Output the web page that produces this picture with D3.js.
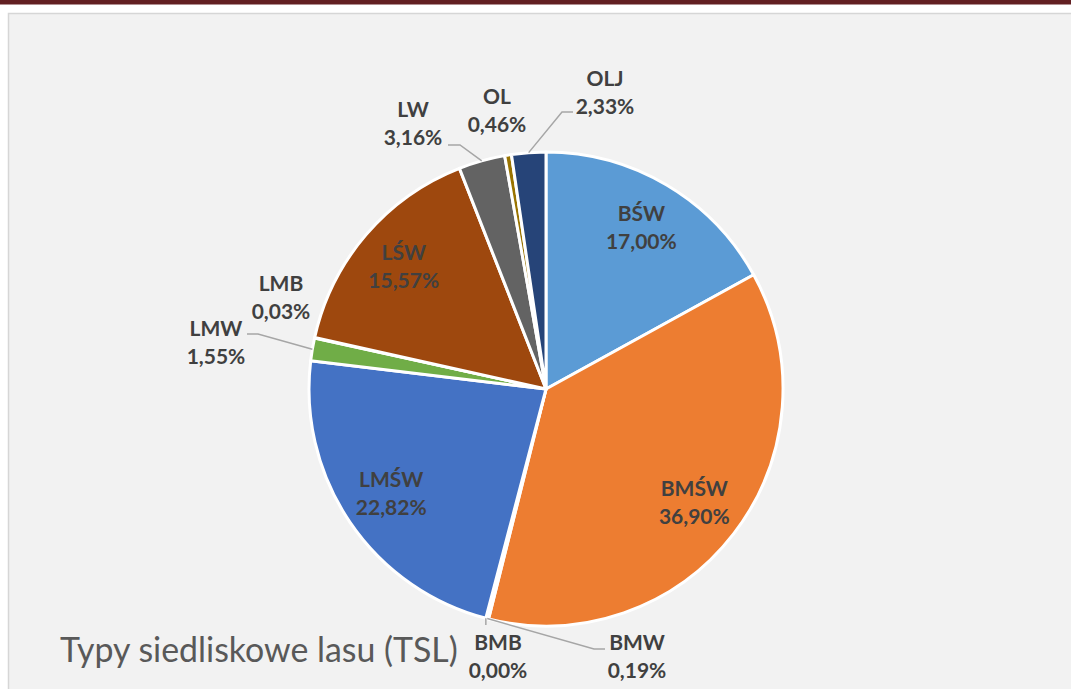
<!DOCTYPE html>
<html><head><meta charset="utf-8">
<script src="https://cdn.jsdelivr.net/npm/d3@7"></script>
<style>
html,body{margin:0;padding:0;background:#fff;overflow:hidden;}
svg{display:block;}
</style></head>
<body>
<svg id="chart" width="1071" height="689"></svg>
<script>
// ---- data ----
const categories = ["BŚW","BMŚW","BMW","BMB","LMŚW","LMW","LMB","LŚW","LW","OL","OLJ"];
const values     = [17.00, 36.90, 0.19, 0.00, 22.82, 1.55, 0.03, 15.57, 3.16, 0.46, 2.33];
const valueLabels = ["17,00%","36,90%","0,19%","0,00%","22,82%","1,55%","0,03%","15,57%","3,16%","0,46%","2,33%"];
const colors = ["#5B9BD5","#ED7D31","#A5A5A5","#FFC000","#4472C4","#70AD47","#255E91","#9E480E","#636363","#997300","#264478"];
const title = "Typy siedliskowe lasu (TSL)";

// ---- layout (styles/positions) ----
const W = 1071, H = 689;
const cx = 546, cy = 389, R = 237;
// outside labels: x center, first baseline, leader polyline (label side points)
const outside = {
  "BMW": {x:637, y:650, leader:[[605,649],[594,649]]},
  "BMB": {x:498, y:650, leader:null, tick:625},
  "LMW": {x:216, y:336, leader:[[247,334],[258,334]]},
  "LMB": {x:281, y:291, leader:null},
  "LW":  {x:413, y:117, leader:[[448,145],[460,145]]},
  "OL":  {x:497, y:104, leader:null},
  "OLJ": {x:605, y:86,  leader:[[573,112],[562,112]]}
};

const svg = d3.select("#chart");
// top dark red strip
svg.append("rect").attr("x",0).attr("y",0).attr("width",W).attr("height",4.5).attr("fill","#621f22");
// panel
svg.append("rect").attr("x",8.5).attr("y",13.5).attr("width",W+20).attr("height",H+20)
  .attr("fill","#f2f2f2").attr("stroke","#d6d6d6").attr("stroke-width",1.5);

const data = categories.map((c,i)=>({cat:c, value:values[i], label:valueLabels[i], color:colors[i]}));
const pie = d3.pie().value(d=>d.value).sort(null);
const arcs = pie(data);
const arc = d3.arc().innerRadius(0).outerRadius(R);

const g = svg.append("g").attr("transform",`translate(${cx},${cy})`);
g.selectAll("path.slice").data(arcs).join("path")
  .attr("class","slice")
  .attr("d",arc)
  .attr("fill",d=>d.data.color)
  .attr("stroke","#ffffff").attr("stroke-width",3).attr("stroke-linejoin","round");

const fontFam = "Lato, 'Open Sans', sans-serif";
const lblColor = "#404040";
const lineGap = 28;

function polar(a, r){ return [cx + r*Math.sin(a), cy - r*Math.cos(a)]; }

arcs.forEach(a=>{
  const d = a.data;
  const mid = (a.startAngle + a.endAngle)/2;
  let x, y;
  const o = outside[d.cat];
  if (o) {
    x = o.x; y = o.y;
    const edge = polar(mid, R);
    if (o.leader) {
      const pts = o.leader.concat([edge]);
      svg.append("polyline").attr("points", pts.map(p=>p.join(",")).join(" "))
        .attr("fill","none").attr("stroke","#a6a6a6").attr("stroke-width",1.5);
    }
    if (o.tick) {
      svg.append("line").attr("x1",edge[0]).attr("y1",edge[1]).attr("x2",edge[0]).attr("y2",o.tick)
        .attr("stroke","#a6a6a6").attr("stroke-width",1.5);
    }
  } else {
    const p = polar(mid, R*0.79);
    x = p[0]; y = p[1] - 7;   // block centered on point
  }
  const t = svg.append("text").attr("text-anchor","middle")
    .attr("font-family",fontFam).attr("font-weight","bold").attr("font-size",21)
    .attr("fill",lblColor);
  t.append("tspan").attr("x",x).attr("y",y).text(d.cat);
  t.append("tspan").attr("x",x).attr("y",y+lineGap).text(d.label);
});

// title
const tt = svg.append("text").attr("x",60).attr("y",662)
  .attr("font-family",fontFam).attr("font-size",30).attr("fill","#595959").text(title);
const len = tt.node().getComputedTextLength();
tt.attr("font-size", 30*398/len);
</script>
</body></html>
